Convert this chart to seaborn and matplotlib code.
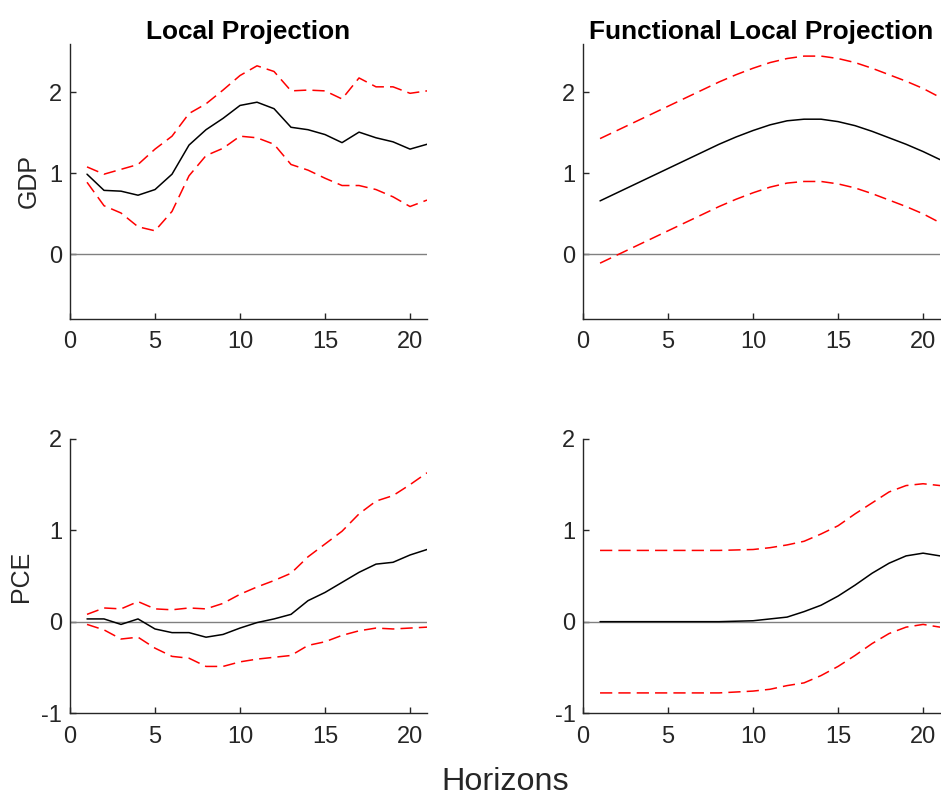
import numpy as np
import pandas as pd
import matplotlib
matplotlib.use("Agg")
import matplotlib.pyplot as plt
import seaborn as sns

# Impulse responses by horizon: point estimate with upper/lower bands
horizons = list(range(1, 22))

gdp_lp = [0.99, 0.79, 0.78, 0.73, 0.80, 0.99, 1.35, 1.54, 1.68, 1.84, 1.88,
          1.80, 1.57, 1.54, 1.48, 1.38, 1.51, 1.44, 1.39, 1.30, 1.36]
gdp_lp_hi = [1.08, 0.99, 1.05, 1.11, 1.30, 1.46, 1.74, 1.86, 2.03, 2.21, 2.33,
             2.26, 2.02, 2.03, 2.02, 1.92, 2.18, 2.07, 2.07, 1.99, 2.02]
gdp_lp_lo = [0.89, 0.60, 0.51, 0.34, 0.29, 0.53, 0.97, 1.22, 1.31, 1.46, 1.44,
             1.36, 1.11, 1.04, 0.94, 0.85, 0.85, 0.80, 0.71, 0.59, 0.67]

gdp_flp = [0.66, 0.76, 0.86, 0.96, 1.06, 1.16, 1.26, 1.36, 1.45, 1.53, 1.60,
           1.65, 1.67, 1.67, 1.64, 1.59, 1.52, 1.44, 1.36, 1.27, 1.17]
gdp_flp_hi = [1.43, 1.53, 1.63, 1.73, 1.83, 1.93, 2.03, 2.13, 2.22, 2.30, 2.37,
              2.42, 2.45, 2.45, 2.42, 2.37, 2.30, 2.22, 2.14, 2.05, 1.94]
gdp_flp_lo = [-0.11, -0.01, 0.09, 0.19, 0.29, 0.39, 0.49, 0.59, 0.68, 0.76, 0.83,
              0.88, 0.90, 0.90, 0.87, 0.82, 0.75, 0.67, 0.59, 0.50, 0.39]

pce_lp = [0.03, 0.03, -0.03, 0.03, -0.08, -0.12, -0.12, -0.17, -0.14, -0.07, -0.01,
          0.03, 0.08, 0.23, 0.32, 0.43, 0.54, 0.63, 0.65, 0.73, 0.79]
pce_lp_hi = [0.08, 0.15, 0.14, 0.22, 0.14, 0.13, 0.15, 0.14, 0.20, 0.30, 0.38,
             0.45, 0.53, 0.71, 0.85, 0.99, 1.18, 1.32, 1.38, 1.50, 1.63]
pce_lp_lo = [-0.03, -0.09, -0.19, -0.17, -0.29, -0.38, -0.40, -0.49, -0.49, -0.44, -0.41,
             -0.39, -0.37, -0.26, -0.22, -0.15, -0.10, -0.07, -0.08, -0.07, -0.06]

pce_flp = [0.0, 0.0, 0.0, 0.0, 0.0, 0.0, 0.0, 0.0, 0.005, 0.01, 0.03,
           0.05, 0.11, 0.18, 0.28, 0.40, 0.53, 0.64, 0.72, 0.75, 0.72]
pce_flp_hi = [0.78, 0.78, 0.78, 0.78, 0.78, 0.78, 0.78, 0.78, 0.785, 0.79, 0.81,
              0.84, 0.88, 0.96, 1.05, 1.18, 1.30, 1.42, 1.49, 1.51, 1.49]
pce_flp_lo = [-0.78, -0.78, -0.78, -0.78, -0.78, -0.78, -0.78, -0.78, -0.77, -0.76, -0.74,
              -0.70, -0.67, -0.59, -0.49, -0.37, -0.24, -0.13, -0.06, -0.03, -0.06]

titles = ["Local Projection", "Functional Local Projection"]
row_labels = ["GDP", "PCE"]
x_ticks = [0, 5, 10, 15, 20]
y_ticks = [[0, 1, 2], [-1, 0, 1, 2]]
y_limits = [(-0.8, 2.6), (-1.0, 2.0)]

panels = [
    [(gdp_lp, gdp_lp_hi, gdp_lp_lo), (gdp_flp, gdp_flp_hi, gdp_flp_lo)],
    [(pce_lp, pce_lp_hi, pce_lp_lo), (pce_flp, pce_flp_hi, pce_flp_lo)],
]

sns.set_theme(style="ticks")
plt.rcParams["font.family"] = ["Liberation Sans", "DejaVu Sans"]
plt.rcParams["axes.unicode_minus"] = False

ink = "#262626"
fig = plt.figure(figsize=(9.41, 7.98), dpi=100)

lefts = [0.0744, 0.6196]
bottoms = [0.6003, 0.1065]
heights = [0.3446, 0.3434]
width = 0.3794

for r in range(2):
    for c in range(2):
        ax = fig.add_axes([lefts[c], bottoms[r], width, heights[r]])
        est, hi, lo = panels[r][c]
        df = pd.DataFrame({"h": horizons, "est": est, "hi": hi, "lo": lo})
        ax.axhline(0, color="#808080", lw=1.0, zorder=1)
        sns.lineplot(data=df, x="h", y="hi", ax=ax, color="red", lw=1.1,
                     zorder=2).lines[-1].set_dashes((8, 4))
        sns.lineplot(data=df, x="h", y="lo", ax=ax, color="red", lw=1.1,
                     zorder=2).lines[-1].set_dashes((8, 4))
        sns.lineplot(data=df, x="h", y="est", ax=ax, color="black", lw=1.1, zorder=3)

        ax.set_xlim(0, 21)
        ax.set_ylim(*y_limits[r])
        ax.set_xticks(x_ticks)
        ax.set_yticks(y_ticks[r])
        ax.set_xlabel("")
        ax.set_ylabel("")
        ax.tick_params(direction="in", length=4, width=1.0, colors=ink,
                       labelsize=17)
        ax.tick_params(axis="x", pad=9)
        ax.tick_params(axis="y", pad=5.5)
        for side in ("top", "right"):
            ax.spines[side].set_visible(False)
        for side in ("left", "bottom"):
            ax.spines[side].set_color(ink)
            ax.spines[side].set_linewidth(1.0)
        if r == 0:
            ax.set_title(titles[c], fontsize=18.9, fontweight="bold", color="black", pad=3)
        if c == 0:
            ax.set_ylabel(row_labels[r], fontsize=18, color=ink, labelpad=6)

fig.text(0.537, 0.0095, "Horizons", ha="center", va="baseline", fontsize=23.3, color=ink)

fig.savefig("out.png", dpi=100)
